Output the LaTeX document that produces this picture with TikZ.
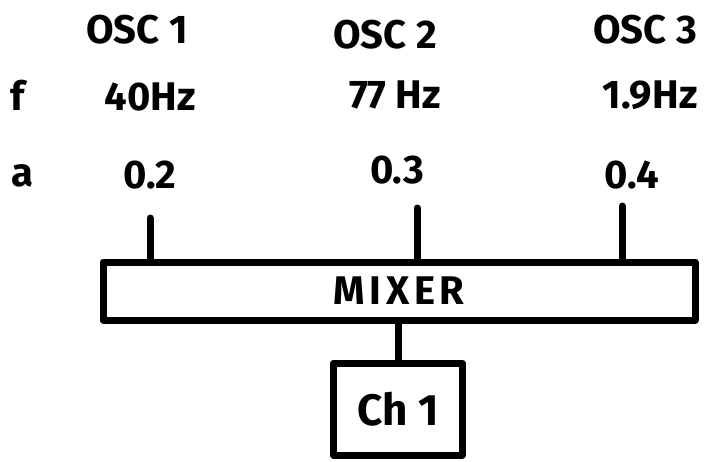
\documentclass[tikz,border=0pt]{standalone}
\usepackage{fontspec}
\setmainfont{Fira Sans}
\begin{document}
\begin{tikzpicture}[x=1pt,y=-1pt,
  every node/.style={font=\fontsize{40}{42}\selectfont\bfseries,inner sep=1pt},
  pen/.style={line width=7pt,line cap=round,line join=round},
  blockbox/.style={draw,pen,inner sep=0pt}]
\useasboundingbox (0,0) rectangle (714,461);
% oscillator headers
\foreach \n/\x/\y in {1/137/30,2/385/35,3/645/30}{
  \node (osc\n) at (\x,\y) {OSC \n};
}
% row labels
\node (flab) at (18,95) {f};
\node (alab) at (22,176) {a};
% frequencies and amplitudes
\node (f1) at (150,97) {40Hz};
\node (f2) at (395,95) {77 Hz};
\node (f3) at (650,95) {1.9Hz};
\node (a1) at (150,175) {0.2};
\node (a2) at (397,170) {0.3};
\node (a3) at (632,175) {0.4};
% mixer and output channel
\node[blockbox,minimum width=592pt,minimum height=58pt] (mixer) at (399,291)
  {\addfontfeatures{LetterSpace=12}MIXER};
\node[blockbox,minimum width=129pt,minimum height=92pt,
  font=\fontsize{44}{46}\selectfont\bfseries] (ch) at (398,409) {Ch 1};
% inputs into the mixer
\coordinate (in1) at (150,218);
\coordinate (in2) at (417,208);
\coordinate (in3) at (622,206);
\foreach \i in {1,2,3}{
  \draw[pen] (in\i) -- (in\i |- mixer.north);
}
\draw[pen] (ch.north) -- (ch.north |- mixer.south);
\end{tikzpicture}
\end{document}
